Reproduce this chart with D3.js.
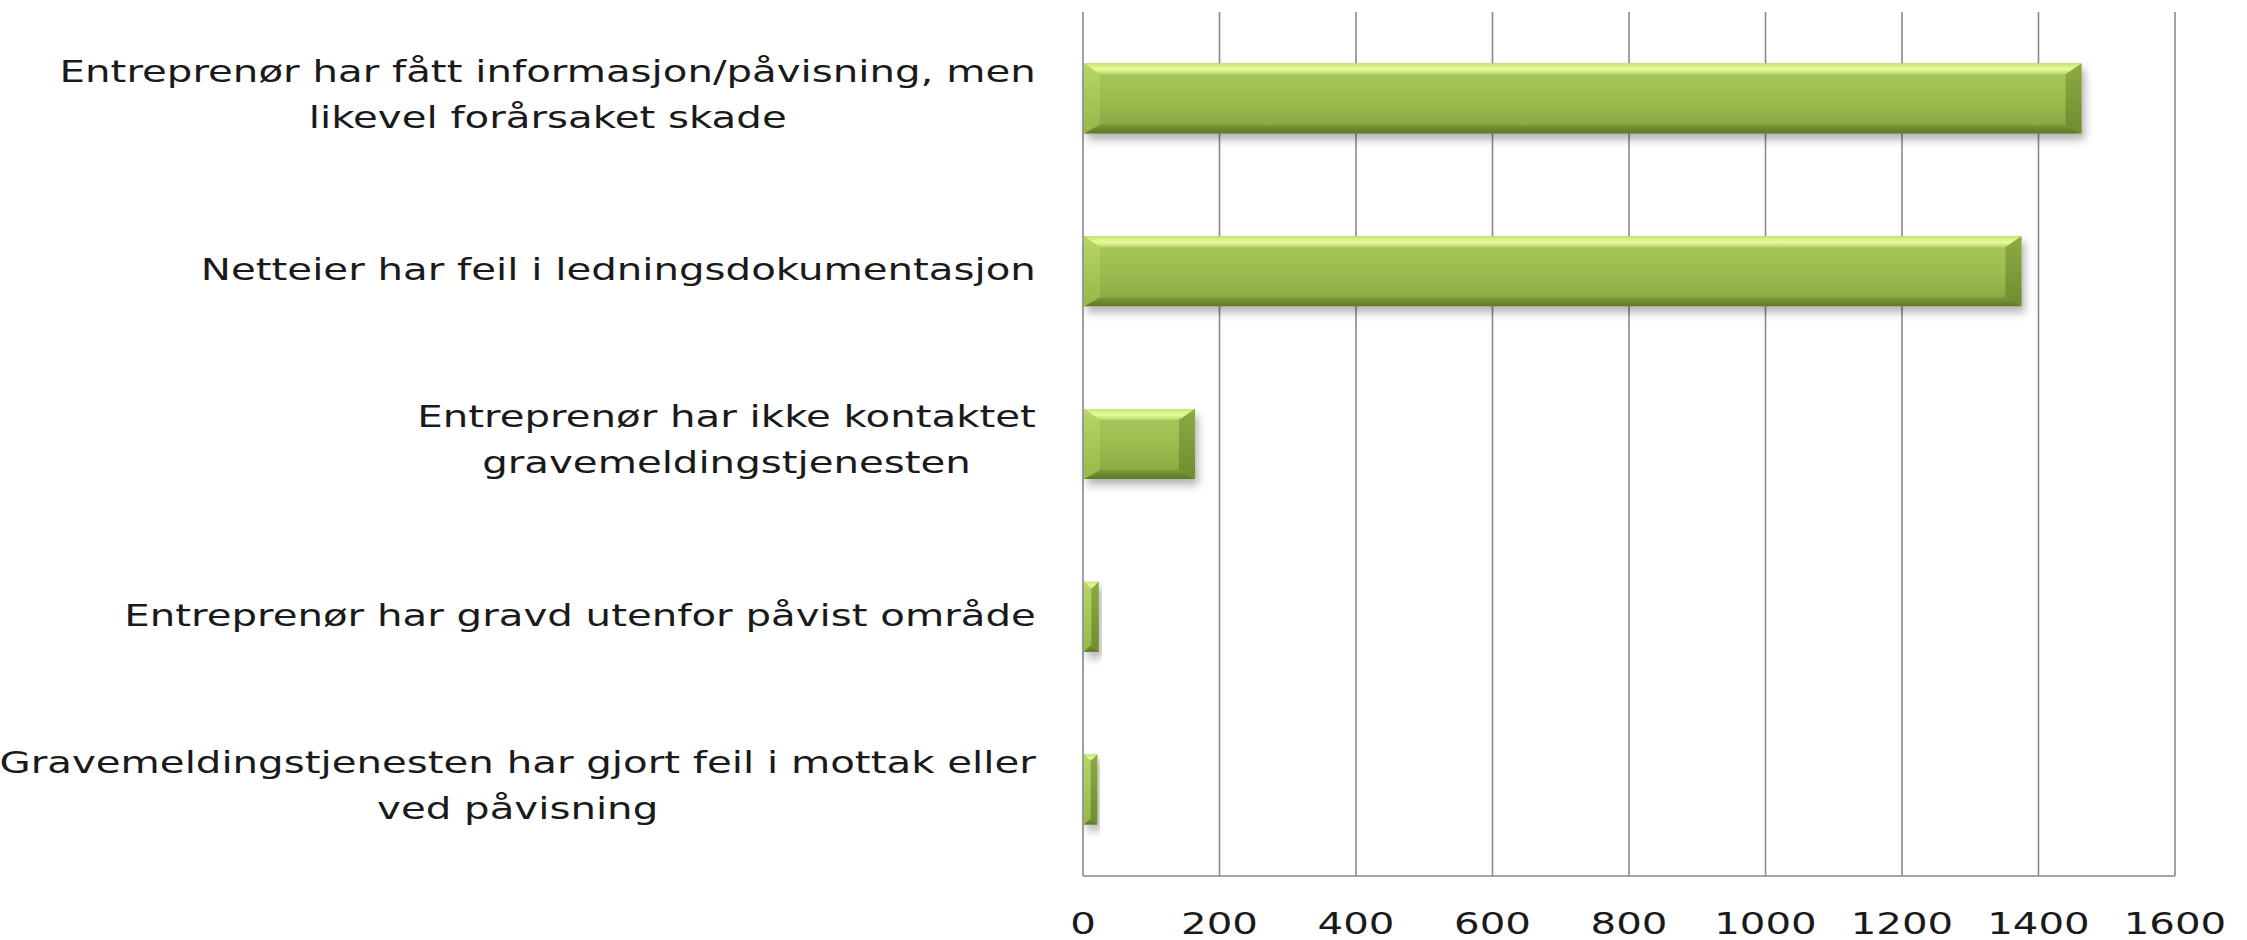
<!DOCTYPE html>
<html>
<head>
<meta charset="utf-8">
<script src="https://d3js.org/d3.v7.min.js"></script>
<style>
  body { margin: 0; background: #fff; }
  text { font-family: "DejaVu Sans", sans-serif; fill: #1a1a1a; }
</style>
</head>
<body>
<script>
var width = 2247;
var height = 940;
var margin = {top: 12, left: 1083, bottom: 64, right: 72};

// data
var categories = [
  "Entreprenør har fått informasjon/påvisning, men\nlikevel forårsaket skade",
  "Netteier har feil i ledningsdokumentasjon",
  "Entreprenør har ikke kontaktet\ngravemeldingstjenesten",
  "Entreprenør har gravd utenfor påvist område",
  "Gravemeldingstjenesten har gjort feil i mottak eller\nved påvisning"
];
var values = [1463, 1375, 164, 23, 21];
var ticks = [0, 200, 400, 600, 800, 1000, 1200, 1400, 1600];

var innerW = width - margin.left - margin.right;
var innerH = height - margin.top - margin.bottom;

var svg = d3.select("body")
  .append("svg")
  .attr("width", width)
  .attr("height", height);

var defs = svg.append("defs");

var shadow = defs.append("filter")
  .attr("id", "shadow")
  .attr("x", "-20%").attr("y", "-30%")
  .attr("width", "140%").attr("height", "170%");
shadow.append("feDropShadow")
  .attr("dx", 3).attr("dy", 6)
  .attr("stdDeviation", 4)
  .attr("flood-color", "#000")
  .attr("flood-opacity", 0.3);

function grad(id, stops) {
  var g = defs.append("linearGradient")
    .attr("id", id)
    .attr("x1", 0).attr("y1", 0).attr("x2", 0).attr("y2", 1);
  stops.forEach(function(s) {
    g.append("stop").attr("offset", s[0]).attr("stop-color", s[1]);
  });
}
grad("body", [["0%", "#aacb5c"], ["50%", "#9bbd4f"], ["100%", "#86a63e"]]);
grad("top", [["0%", "#c9e477"], ["55%", "#e6fc9a"], ["100%", "#b6d368"]]);
grad("bottom", [["0%", "#7d9a3a"], ["100%", "#5e7828"]]);
grad("left", [["0%", "#b8d668"], ["100%", "#96b74a"]]);
grad("right", [["0%", "#8dab41"], ["100%", "#6f8c30"]]);

var x = d3.scaleLinear()
  .domain([0, 1600])
  .range([0, innerW]);

var y = d3.scaleBand()
  .domain(categories)
  .range([0, innerH])
  .paddingInner(0.595)
  .paddingOuter(0.2975);

var g = svg.append("g")
  .attr("transform", "translate(" + margin.left + "," + margin.top + ")");

// gridlines
g.append("g")
  .selectAll("line")
  .data(ticks)
  .enter()
  .append("line")
  .attr("x1", d => x(d)).attr("x2", d => x(d))
  .attr("y1", 0).attr("y2", innerH)
  .attr("stroke", "#8a8a8a")
  .attr("stroke-width", 1.6);

g.append("line")
  .attr("x1", 0).attr("x2", x(1600))
  .attr("y1", innerH).attr("y2", innerH)
  .attr("stroke", "#8a8a8a")
  .attr("stroke-width", 1.6);

// bars with bevel
var bar = g.append("g")
  .selectAll("g")
  .data(values)
  .enter()
  .append("g")
  .attr("filter", "url(#shadow)");

bar.each(function(v, i) {
  var sel = d3.select(this);
  var x0 = x(0) + 1, x1 = x(v);
  var y0 = y(categories[i]), y1 = y0 + y.bandwidth();
  var b = Math.min(16, (x1 - x0) / 2);
  var bt = Math.min(11, (x1 - x0) / 2);
  var bb = Math.min(9, (x1 - x0) / 2);
  sel.append("rect")
    .attr("x", x0).attr("y", y0)
    .attr("width", x1 - x0).attr("height", y1 - y0)
    .attr("fill", "url(#body)");
  sel.append("polygon")
    .attr("points", [[x0, y0], [x1, y0], [x1 - b, y0 + bt], [x0 + b, y0 + bt]].join(" "))
    .attr("fill", "url(#top)");
  sel.append("polygon")
    .attr("points", [[x0, y1], [x1, y1], [x1 - b, y1 - bb], [x0 + b, y1 - bb]].join(" "))
    .attr("fill", "url(#bottom)");
  sel.append("polygon")
    .attr("points", [[x0, y0], [x0 + b, y0 + bt], [x0 + b, y1 - bb], [x0, y1]].join(" "))
    .attr("fill", "url(#left)");
  sel.append("polygon")
    .attr("points", [[x1, y0], [x1 - b, y0 + bt], [x1 - b, y1 - bb], [x1, y1]].join(" "))
    .attr("fill", "url(#right)");
});

// category labels: block right-aligned, lines centred within it
var lineH = 46;
var sx = 1.3; // reference text is stretched wide
var lab = g.append("g")
  .selectAll("text")
  .data(categories)
  .enter()
  .append("text")
  .attr("text-anchor", "middle")
  .attr("font-size", 31);

lab.each(function(d) {
  var lines = d.split("\n");
  var t = d3.select(this);
  var spans = lines.map(function(l, k) {
    return t.append("tspan")
      .attr("x", 0)
      .attr("y", (k - (lines.length - 1) / 2) * lineH - (lines.length - 1) * 3)
      .attr("dy", "0.36em")
      .text(l);
  });
  var maxW = d3.max(spans, s => s.node().getComputedTextLength()) * sx;
  t.attr("transform", "translate(" + (-47 - maxW / 2) + "," + (y(d) + y.bandwidth() / 2 - 2) + ")scale(" + sx + ",1)");
});

// tick labels
g.append("g")
  .selectAll("text")
  .data(ticks)
  .enter()
  .append("text")
  .attr("transform", d => "translate(" + x(d) + "," + (innerH + 47) + ")scale(1.3,1)")
  .attr("dy", "0.36em")
  .attr("text-anchor", "middle")
  .attr("font-size", 31)
  .text(d => d);
</script>
</body>
</html>
